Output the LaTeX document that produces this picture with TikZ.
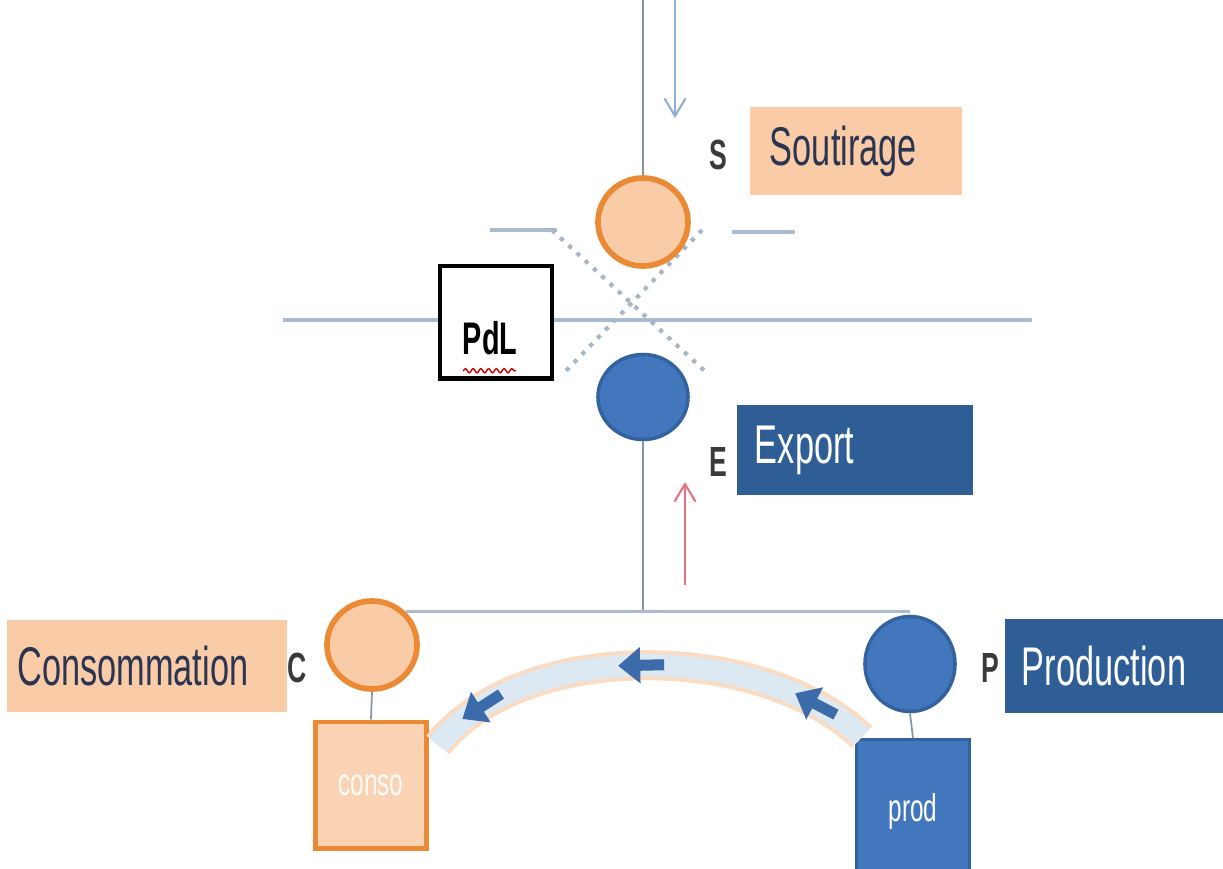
\documentclass[tikz,border=0pt]{standalone}
\usepackage{fontspec}
\setmainfont{Liberation Sans}
\newfontfamily\narrowfont[FakeStretch=0.63]{Liberation Sans}
\usetikzlibrary{shapes.geometric,arrows.meta,decorations.pathmorphing,decorations.markings}

\definecolor{peach}{HTML}{F9CBA7}
\definecolor{orangeline}{HTML}{EB8A35}
\definecolor{darkblue}{HTML}{2F5D95}
\definecolor{midblue}{HTML}{4377BD}
\definecolor{blueline}{HTML}{33629F}
\definecolor{wirecol}{HTML}{A9BBCF}
\definecolor{dotcol}{HTML}{A7B6C8}
\definecolor{labeltext}{HTML}{2B3552}
\definecolor{lettercol}{HTML}{3A3A3A}
\definecolor{bandblue}{HTML}{DCE9F2}
\definecolor{redarrow}{HTML}{E4737F}
\definecolor{downarrow}{HTML}{8FAFD4}

\tikzset{
  orangenode/.style={ellipse, draw=orangeline, fill=peach, line width=1.6pt,
    minimum width=0.9cm, minimum height=0.88cm, inner sep=0pt},
  bluenode/.style={ellipse, draw=blueline, fill=midblue, line width=1pt,
    minimum width=0.9cm, minimum height=0.88cm, inner sep=0pt},
  lightlabel/.style={fill=peach, text=labeltext, align=left,
    font=\narrowfont\fontsize{15.5}{18}\selectfont, inner ysep=0pt},
  darklabel/.style={fill=darkblue, text=white, align=left,
    font=\narrowfont\fontsize{15.5}{18}\selectfont, inner ysep=0pt},
  letter/.style={text=lettercol, font=\narrowfont\bfseries\fontsize{12}{14}\selectfont},
  wire/.style={draw=wirecol, line width=0.9pt},
  thinwire/.style={draw=wirecol!80!black, line width=0.5pt},
  flowarrow/.style={draw=midblue!90!black, line width=0.11cm,
    -{Triangle[width=0.35cm,length=0.22cm]}}
}

\begin{document}
\begin{tikzpicture}[x=0.01cm, y=-0.01cm]
  \useasboundingbox (0,0) rectangle (1223,869);

  % grid lines
  \draw [wire] (490,230) -- (557,230);
  \draw [wire] (732,232) -- (795,232);
  \draw [wire] (283,320) -- (1032,320);
  \draw [dotcol, dotted, line width=1.2pt] (552,230) -- (708,374);
  \draw [dotcol, dotted, line width=1.2pt] (702,230) -- (563,374);

  % points
  \node [orangenode] (s) at (643,222) {};
  \node [bluenode, minimum height=0.85cm] (e) at (643,397) {};
  \node [orangenode] (c) at (372,645) {};
  \node [bluenode, minimum height=0.95cm] (p) at (910,664) {};

  \node [letter] (sl) at (718,155) {S};
  \node [letter] (el) at (718,462) {E};
  \node [letter] (cl) at (297,668) {C};
  \node [letter] (pl) at (990,668) {P};

  % labels
  \node [lightlabel, minimum height=0.88cm, inner xsep=0.2cm, text width=1.72cm]
    (soutirage) at (856,151) {Soutirage};
  \node [darklabel, minimum height=0.89cm, inner xsep=0.18cm, text width=2.0cm]
    (export) at (855,450) {Export};
  \node [lightlabel, minimum height=0.92cm, inner xsep=0.1cm, text width=2.59cm]
    (consommation) at (147,666) {Consommation};
  \node [darklabel, minimum height=0.93cm, inner xsep=0.17cm, text width=1.84cm]
    (production) at (1114,666) {Production};

  % PdL
  \node [draw=black, fill=white, line width=1.4pt, minimum width=1.12cm,
    minimum height=1.12cm] (pdl) at (496,322) {};
  \node [font=\narrowfont\bfseries\fontsize{13}{15}\selectfont] (pdltext) at (490,338) {PdL};
  \draw [red!80!black, line width=0.4pt, decorate,
    decoration={snake, amplitude=0.6pt, segment length=2.2pt}]
    ([yshift=-1pt]pdltext.south west -| 463,0) -- ([yshift=-1pt]pdltext.south east -| 516,0);

  % boxes
  \node [draw=orangeline, fill=peach!85, line width=1.4pt, minimum width=1.11cm,
    minimum height=1.26cm, text=white!92!peach,
    font=\narrowfont\fontsize{11}{13}\selectfont] (conso) at (371,785) {conso};
  \node [draw=blueline, fill=midblue, line width=0.8pt, minimum width=1.13cm,
    minimum height=1.35cm, text=white, text depth=0pt,
    font=\narrowfont\fontsize{11}{13}\selectfont] (prod) at (913,807) {prod};

  % connections
  \coordinate (top) at (643,0);
  \coordinate (inA) at (675,0);
  \coordinate (inB) at (675,118);
  \draw [thinwire] (top) -- (s.north);
  \draw [downarrow, line width=0.6pt, -{Straight Barb[length=5pt,width=6pt]}] (inA) -- (inB);
  \draw [thinwire] (e.south) -- (e.south |- c.north east);
  \draw [wire] (c.north east) -- (c.north east -| p.north);
  \draw [thinwire] (c.south) -- (conso.north);
  \draw [thinwire] (p.south) -- (prod.north);
  \coordinate (outA) at (685,585);
  \coordinate (outB) at (685,482);
  \draw [redarrow, line width=0.6pt, -{Straight Barb[length=5pt,width=6pt]}] (outA) -- (outB);

  % flow band
  \coordinate (bandR) at (862,737);
  \coordinate (bandL) at (438,745);
  \draw [peach!70, line width=0.3cm] (bandR) .. controls (760,640) and (520,640) .. (bandL);
  \draw [bandblue, line width=0.22cm] (bandR) .. controls (760,640) and (520,640) .. (bandL);
  \path [decorate, decoration={markings,
      mark=at position 0.13 with {\draw [flowarrow] (-0.26cm,0) -- (0.2cm,0);},
      mark=at position 0.52 with {\draw [flowarrow] (-0.26cm,0) -- (0.2cm,0);},
      mark=at position 0.88 with {\draw [flowarrow] (-0.26cm,0) -- (0.2cm,0);}}]
    (bandR) .. controls (760,640) and (520,640) .. (bandL);
\end{tikzpicture}
\end{document}
